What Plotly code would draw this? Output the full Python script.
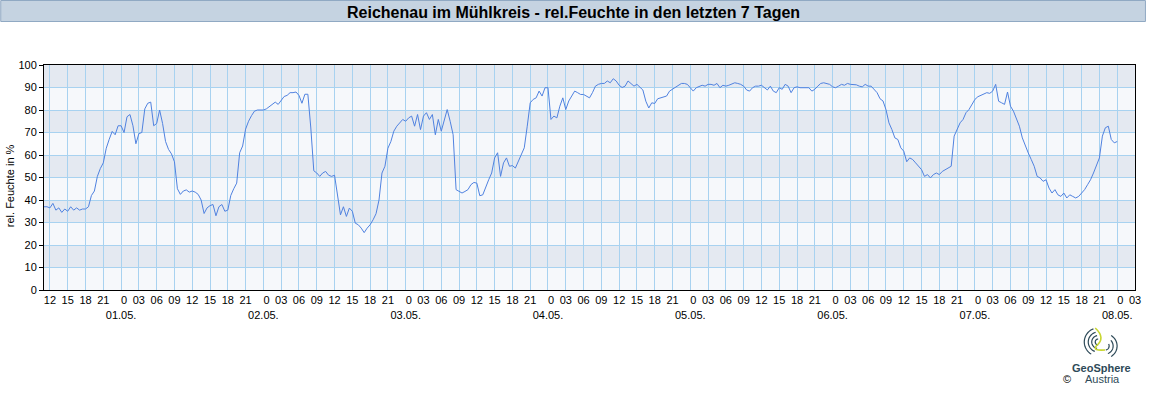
import plotly.graph_objects as go
import pandas as pd
import numpy as np

# ---------------- data (half-hourly relative humidity, %) ----------------
rh_3004 = [37, 37, 36.5, 38.5, 35.5, 36.5, 34.5, 36, 35, 37, 35.5, 36.5, 35.5, 36, 36, 37,
           42, 44, 50.5, 54, 56.5, 63, 67, 70.5, 69, 73]  # from 11:00
rh_0105 = [73, 70, 77, 78, 73, 65, 69.5, 70, 80.5, 83, 83.5, 73, 74, 80, 74, 66, 62.5, 60.5,
           57, 45, 42.5, 44, 44.5, 43.5,
           44, 43.5, 42.5, 40, 34, 36.5, 37.5, 38, 33, 37, 38, 35, 35.5, 42, 45, 47.5, 61, 64,
           71.5, 75, 77.5, 79.5, 80, 80]
rh_0205 = [80, 80.5, 81.4, 82.5, 83.5, 82.5, 84, 86, 86.5, 87.7, 87.7, 88, 86.5, 83, 87, 87,
           72, 53, 52, 50.5, 52, 52.7, 51, 50.5,
           51, 43, 33.4, 37, 32.7, 36.4, 35, 29.7, 29, 27.5, 25.5, 27.5, 29, 31.2, 33.9, 40,
           52, 55, 63, 66, 70.6, 72.8, 74.3, 75.8]
rh_0305 = [75, 76.5, 77.3, 72.8, 78, 71.3, 77.3, 78.8, 75.8, 78, 69, 75.8, 70.6, 75.8, 80.2,
           75, 69, 44.6, 43.8, 43.1, 43.8, 44.6, 46.8, 47.8,
           47.5, 41.9, 42.3, 46, 49, 52, 58.7, 61, 50.5, 56.5, 58.7, 55, 55.3, 54.2, 57.2, 60.2,
           63.2, 72.8, 83.2, 84.7, 85.4, 88.4, 86.2, 89.9]
rh_0405 = [89.9, 75.8, 77.3, 76.5, 81.7, 85.4, 80.2, 84, 86.2, 88.4, 87.7, 86.9, 86.9, 86.2,
           85.4, 87.7, 90.6, 91.4, 91.8, 91.8, 92.9, 92.1, 93.9, 92.9,
           91, 90, 90.6, 92.9, 91.8, 90.6, 91.4, 89.9, 88.9, 83.9, 80.9, 83.2, 82.9, 85, 85.4,
           85.9, 86.2, 88.4, 89.2, 89.9, 91, 91.8, 91.8, 91.4]
rh_0505 = [89.9, 88.4, 89.9, 90.3, 91, 90.6, 91.4, 91.4, 91, 91.8, 89.9, 91, 90.6, 91, 91.4,
           92.1, 91.8, 91.4, 90.6, 88.9, 88.4, 89.9, 90.6, 90.6,
           91, 89.9, 88.9, 90.6, 88.4, 87.7, 89.9, 89.2, 91.4, 90.6, 87.7, 89.9, 90.3, 89.9,
           89.9, 90, 89.9, 88.4, 89.2, 90.6, 91.8, 92.1, 91.8, 91.4]
rh_0605 = [90.3, 89.9, 90.6, 91.4, 91, 91.8, 91.4, 91.4, 91.2, 90.6, 90.3, 91.4, 90.6, 90.6,
           89.2, 87.7, 85, 84, 80.2, 74.3, 71.3, 67.6, 66.9, 63.2,
           61.7, 57, 58.7, 58, 56.5, 55, 53.5, 50.5, 51.3, 49.8, 51.3, 52, 51.3, 52.7, 53.5,
           54.2, 55, 68.4, 71.3, 74.3, 75.8, 78.8, 80.2, 82.5]
rh_0705 = [84.7, 85.9, 86.5, 86.9, 87.7, 87.4, 88.4, 91.4, 83.9, 83.2, 82.5, 88, 81.7, 79.5,
           75.8, 72.8, 67.6, 63.9, 60.9, 58, 55, 50.5, 49.8, 48.3,
           49, 45.3, 43.1, 44.6, 42.3, 41.6, 43.1, 40.9, 42.3, 41.6, 40.9, 41.6, 43.1, 44.6,
           46.8, 49, 52, 55, 58.7, 68.4, 72.1, 72.8, 66.9, 65.4]
rh_0805 = [66]

series_start = "2025-04-30 11:00"
axis_start = "2025-04-30 11:00"
axis_end = "2025-05-08 03:00"
title_text = "Reichenau im Mühlkreis - rel.Feuchte in den letzten 7 Tagen"
y_title = "rel. Feuchte in %"
y_ticks = list(range(0, 101, 10))

values = rh_3004 + rh_0105 + rh_0205 + rh_0305 + rh_0405 + rh_0505 + rh_0605 + rh_0705 + rh_0805
times = pd.date_range(series_start, periods=len(values), freq="30min")

tick_times = pd.date_range("2025-04-30 12:00", axis_end, freq="3h")
tick_text = [("\u20070<br>" + t.strftime("%d.%m.")) if t.hour == 0 else t.strftime("%H")
             for t in tick_times]

# ---------------- layout geometry ----------------
W, H = 1152, 400
L, R, T, B = 44, 1141, 65, 290


def px(x):
    return (x - L) / (R - L)


def py(y):
    return (B - y) / (B - T)


FONT = "Liberation Sans, Arial, sans-serif"
LINE = "#5082e0"
GRID = "#a8d2f0"

fig = go.Figure()
fig.add_trace(go.Scatter(x=times, y=values, mode="lines",
                         line=dict(color=LINE, width=1), hoverinfo="skip", showlegend=False))

shapes = []
# alternating bands
for lo in range(10, 100, 20):
    shapes.append(dict(type="rect", xref="paper", yref="y", x0=0, x1=1, y0=lo, y1=lo + 10,
                       fillcolor="#e4e9f1", line=dict(width=0), layer="below"))
# title bar
shapes.append(dict(type="rect", xref="paper", yref="paper", x0=px(0.5), x1=px(1151.5),
                   y0=py(21.5), y1=py(0.5), fillcolor="#c5d3e1",
                   line=dict(color="#90a9c3", width=1), layer="above"))

# logo (decorative arcs)
cx, cy = 1107, 342


def arc(r, a0, a1, dx=0, dy=0):
    a = np.linspace(np.radians(a0), np.radians(a1), 20)
    xs = cx + dx + r * np.cos(a)
    ys = cy + dy - r * np.sin(a)
    return "M " + " L ".join(f"{px(x):.5f},{py(y):.5f}" for x, y in zip(xs, ys))


logo_dark = "#2e4a58"
for r, a0, a1 in [(3, 90, 270), (6.5, 100, 260), (10, 105, 250), (14, 110, 240)]:
    shapes.append(dict(type="path", xref="paper", yref="paper", path=arc(r, a0, a1, dx=-3),
                       line=dict(color=logo_dark, width=1.2)))
for r, a0, a1 in [(4, -80, 30), (8, -70, 45), (12, -60, 60)]:
    shapes.append(dict(type="path", xref="paper", yref="paper", path=arc(r, a0, a1, dx=4, dy=4),
                       line=dict(color=logo_dark, width=1.2)))
shapes.append(dict(type="path", xref="paper", yref="paper",
                   path=f"M {px(1101):.5f},{py(328):.5f} Q {px(1112):.5f},{py(338):.5f} {px(1102):.5f},{py(346):.5f} "
                        f"Q {px(1098):.5f},{py(351):.5f} {px(1111):.5f},{py(350):.5f}",
                   line=dict(color="#c8d630", width=1.6)))

annotations = [
    dict(text="<b>" + title_text + "</b>", xref="paper", yref="paper", x=px(576), y=py(12),
         xanchor="center", yanchor="middle", showarrow=False,
         font=dict(family=FONT, size=16, color="#000000")),
    dict(text=y_title, xref="paper", yref="paper", x=px(10), y=py(186), textangle=-90,
         xanchor="center", yanchor="middle", showarrow=False,
         font=dict(family=FONT, size=11, color="#000000")),
    dict(text="<b>GeoSphere</b>", xref="paper", yref="paper", x=px(1107), y=py(368),
         xanchor="center", yanchor="middle", showarrow=False,
         font=dict(family=FONT, size=11, color=logo_dark)),
    dict(text="Austria", xref="paper", yref="paper", x=px(1108), y=py(379),
         xanchor="center", yanchor="middle", showarrow=False,
         font=dict(family=FONT, size=11, color=logo_dark)),
    dict(text="©", xref="paper", yref="paper", x=px(1073), y=py(379),
         xanchor="center", yanchor="middle", showarrow=False,
         font=dict(family=FONT, size=11, color="#000000")),
]

fig.update_layout(
    width=W, height=H,
    margin=dict(l=L, r=W - R, t=T, b=H - B, pad=0),
    paper_bgcolor="white", plot_bgcolor="#f6f8fb",
    font=dict(family=FONT, size=11, color="#000000"),
    shapes=shapes, annotations=annotations,
    xaxis=dict(range=[axis_start, axis_end], tickmode="array", tickvals=tick_times, ticktext=tick_text,
               tickangle=0, showgrid=True, gridcolor=GRID, gridwidth=1, showline=True,
               linecolor="#000000", linewidth=1, mirror=True, ticks="", tickfont=dict(size=11),
               zeroline=False, fixedrange=True),
    yaxis=dict(range=[0, 100], tickmode="array", tickvals=y_ticks, showgrid=True, gridcolor=GRID,
               gridwidth=1, showline=True, linecolor="#000000", linewidth=1, mirror=True,
               ticks="outside", ticklen=4, tickcolor="#000000", tickfont=dict(size=11),
               zeroline=False, fixedrange=True),
)

fig.write_html("out.html", config={"displayModeBar": False},
               post_script="document.body.style.margin='0';document.body.style.overflow='hidden';")
